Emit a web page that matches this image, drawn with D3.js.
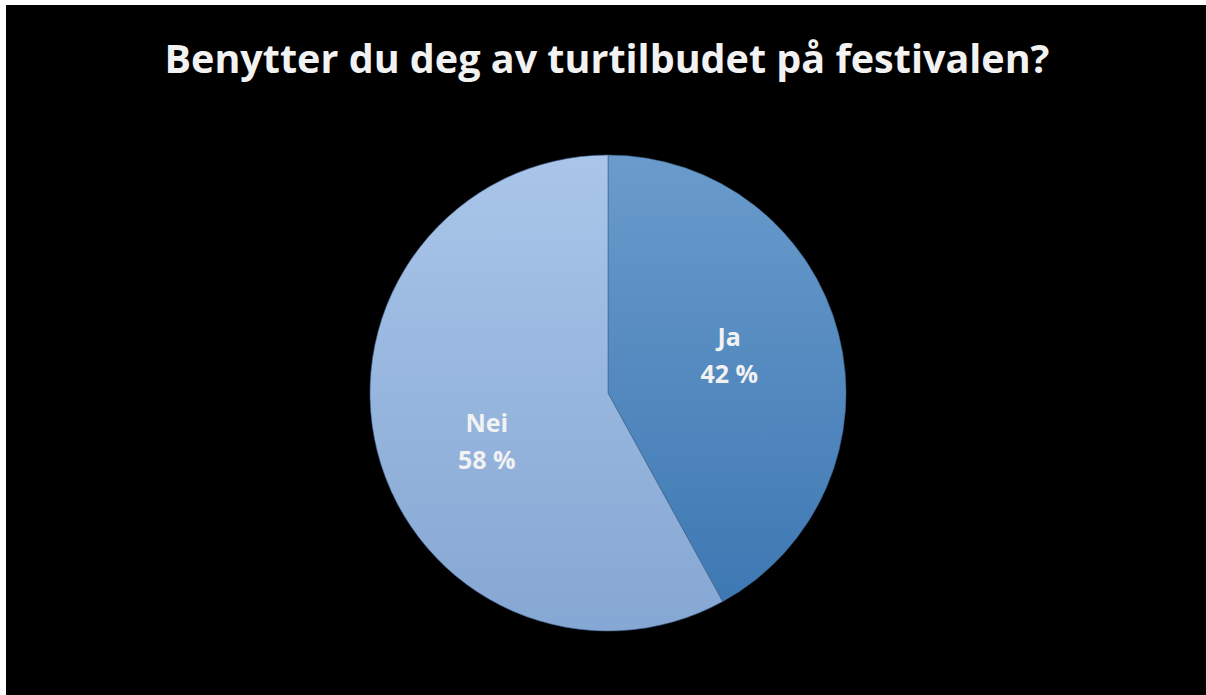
<!DOCTYPE html>
<html>
<head>
<meta charset="utf-8">
<script src="https://cdn.jsdelivr.net/npm/d3@7"></script>
<style>
  html, body { margin: 0; padding: 0; background: #fff; }
  svg { display: block; }
</style>
</head>
<body>
<div id="chart"></div>
<script>
// data
const categories = ["Ja", "Nei"];
const values = [42, 58];
const title = "Benytter du deg av turtilbudet på festivalen?";

const width = 1206, height = 695;
const cx = 608, cy = 393, radius = 238;

const svg = d3.select("#chart").append("svg")
  .attr("width", width)
  .attr("height", height);

// black chart area with small white margin top/left
svg.append("rect")
  .attr("x", 6).attr("y", 5)
  .attr("width", width - 6).attr("height", height - 5)
  .attr("fill", "#000");

const defs = svg.append("defs");
const grads = [
  { id: "g-ja", top: "#6a9bcc", bottom: "#3b76b1" },
  { id: "g-nei", top: "#a9c5e9", bottom: "#85a7d3" }
];
// gradients are in the slice's own space (inside the translated group)
grads.forEach(g => {
  const lg = defs.append("linearGradient")
    .attr("id", g.id)
    .attr("gradientUnits", "userSpaceOnUse")
    .attr("x1", 0).attr("y1", -radius)
    .attr("x2", 0).attr("y2", radius);
  lg.append("stop").attr("offset", "0%").attr("stop-color", g.top);
  lg.append("stop").attr("offset", "100%").attr("stop-color", g.bottom);
});

// title
const titleText = svg.append("text")
  .attr("x", 607)
  .attr("y", 73)
  .attr("text-anchor", "middle")
  .attr("fill", "#f2f2f2")
  .style("font-family", "'Open Sans', Calibri, sans-serif")
  .style("font-weight", "bold")
  .style("font-size", "42px")
  .text(title);
// fit the title to the width seen in the reference
const tw = titleText.node().getComputedTextLength();
titleText.style("font-size", (42 * 885 / tw) + "px");

const pie = d3.pie().sort(null).value(d => d);
const arcs = pie(values);
const arc = d3.arc().innerRadius(0).outerRadius(radius);

// label spot: a bit before the mid angle, about half way out
const labelPos = d => {
  const a = (d.startAngle + d.endAngle) / 2 - 5 * Math.PI / 180;
  const r = radius * 0.54;
  return [r * Math.sin(a), -r * Math.cos(a) + 5];
};

const g = svg.append("g").attr("transform", `translate(${cx},${cy})`);

g.selectAll("path.slice")
  .data(arcs)
  .enter()
  .append("path")
  .classed("slice", true)
  .attr("d", arc)
  .attr("fill", (d, i) => `url(#${grads[i].id})`)
  .attr("stroke", "#3f6590")
  .attr("stroke-opacity", 0.6)
  .attr("stroke-width", 1);

// labels
const labels = g.selectAll("text.label")
  .data(arcs)
  .enter()
  .append("text")
  .classed("label", true)
  .attr("transform", d => `translate(${labelPos(d)})`)
  .attr("text-anchor", "middle")
  .attr("fill", "#f2f2f2")
  .style("font-family", "'Open Sans', Calibri, sans-serif")
  .style("font-weight", "bold")
  .style("font-size", "25px");

labels.append("tspan")
  .attr("x", 0)
  .attr("y", -9)
  .text((d, i) => categories[i]);
labels.append("tspan")
  .attr("x", 0)
  .attr("y", 28)
  .text(d => d.data + " %");
</script>
</body>
</html>
